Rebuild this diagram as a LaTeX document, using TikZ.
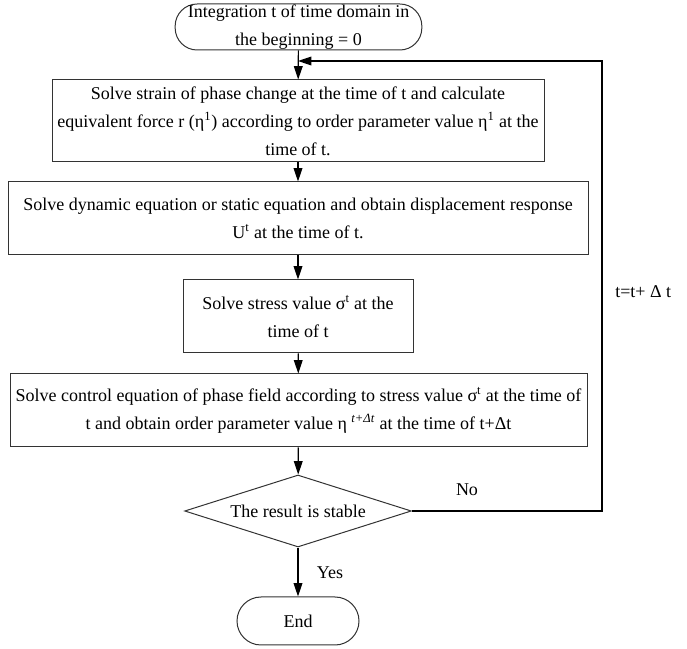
\documentclass[tikz,border=0pt]{standalone}
\usepackage{fontspec}
\setmainfont{Liberation Serif}
\usetikzlibrary{positioning,arrows.meta,shapes.geometric}

\begin{document}
\begin{tikzpicture}[
    x=0.75pt, y=-0.75pt,
    font=\fontsize{13.5}{21}\selectfont,
    block/.style={rectangle, draw=black!80, line width=0.75pt, align=center, inner sep=0pt},
    terminal/.style={block, rounded corners=16.5pt},
    decision/.style={diamond, draw=black!80, line width=0.75pt, aspect=3.15, inner sep=0pt, minimum width=170pt, minimum height=54pt},
    arrow/.style={-{Triangle[length=10pt,width=6.5pt]}, line width=0.9pt},
    labelnode/.style={inner sep=0pt}
  ]
    \useasboundingbox (0,0) rectangle (687,649);

    % Start
    \node[terminal, minimum width=185pt, minimum height=34.5pt] (start) at (298.5,27) {Integration t of time domain in\\the beginning = 0};

    % Steps
    \node[block, minimum width=369pt, minimum height=61.5pt] (step1) at (298,121) {Solve strain of phase change at the time of t and calculate\\equivalent force r (η\textsuperscript{1}) according to order parameter value η\textsuperscript{1} at the\\time of t.};
    \node[block, minimum width=435pt, minimum height=54.75pt] (step2) at (298,218.5) {Solve dynamic equation or static equation and obtain displacement response\\U\textsuperscript{t} at the time of t.};
    \node[block, minimum width=172.5pt, minimum height=54.75pt] (step3) at (298,316.5) {Solve stress value σ\textsuperscript{t} at the\\time of t};
    \node[block, minimum width=432.75pt, minimum height=54.75pt] (step4) at (298.5,410.5) {Solve control equation of phase field according to stress value σ\textsuperscript{t} at the time of\\t and obtain order parameter value η \textsuperscript{\textit{t+Δt}} at the time of t+Δt};

    % Check and end
    \node[decision] (check) at (298,511) {The result is stable};
    \node[terminal, minimum width=91.5pt, minimum height=36pt, rounded corners=18pt] (stop) at (298,621) {End};

    % Loop points
    \coordinate (join) at (298,61);
    \coordinate (loop) at (602,61);

    % Labels
    \node[labelnode] (no) at (467,490) {No};
    \node[labelnode] (yes) at (330,573) {Yes};
    \node[labelnode, anchor=west] (incr) at (615,292) {t=t+ Δ t};

    % Connections
    \draw[arrow] (start) -- (step1);
    \draw[arrow] (step1) -- (step2);
    \draw[arrow] (step2) -- (step3);
    \draw[arrow] (step3) -- (step4);
    \draw[arrow] (step4) -- (check);
    \draw[arrow] (check) -- (stop);
    \draw[arrow] (check.east) -| (loop) -- (join);
  \end{tikzpicture}
\end{document}
